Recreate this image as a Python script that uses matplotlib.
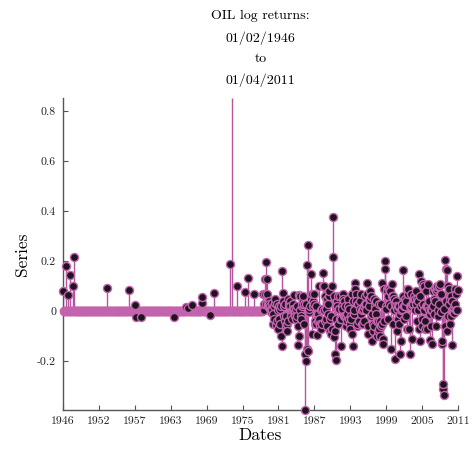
import numpy as np
import matplotlib
matplotlib.use("Agg")
import matplotlib.pyplot as plt
from matplotlib.patches import Rectangle

# ---------------- data ----------------
title_lines = ["OIL log returns:", "01/02/1946", "to", "01/04/2011"]
x_label = "Dates"
y_label = "Series"
x_tick_labels = ["1946", "1952", "1957", "1963", "1969", "1975",
                 "1981", "1987", "1993", "1999", "2005", "2011"]
y_tick_values = [-0.2, 0.0, 0.2, 0.4, 0.6, 0.8]
y_tick_labels = ["-0.2", "0", "0.2", "0.4", "0.6", "0.8"]

start_year, start_month = 1946, 2
end_year, end_month = 2011, 4

# regulated-price era: only the months with a price change (others are 0)
early_months = ["1946-02", "1946-07", "1946-11", "1947-03", "1947-10", "1947-12",
                "1953-06", "1957-01", "1957-12", "1958-02", "1959-01", "1964-06",
                "1966-05", "1966-09", "1967-06", "1969-01", "1969-02", "1970-06",
                "1971-01", "1973-08", "1974-01", "1974-10", "1976-02", "1976-08",
                "1977-08"]
early_returns = [0.081, 0.18, 0.064, 0.144, 0.10, 0.217,
                 0.093, 0.084, 0.024, -0.023, -0.023, -0.022,
                 0.016, 0.012, 0.024, 0.031, 0.057, -0.014,
                 0.073, 0.19, 0.853, 0.10, 0.075, 0.133,
                 0.068]

# monthly log returns, Jan 1979 .. Apr 2011 (one row per year)
late_start_year = 1979
late_returns = [
    0.004, 0.07, 0.006, 0.03, 0.13, 0.07, 0.197, 0.03, 0.07, 0.13, 0.02, 0.03,          # 1979
    0.04, 0.03, 0.01, 0.02, -0.005, 0.01, 0.031, 0.005, -0.01, -0.05, 0.02, -0.03,      # 1980
    0.031, 0.05, -0.05, -0.056, 0.03, -0.04, -0.07, 0.004, 0.02, -0.03, -0.05, 0.01,    # 1981
    0.02, -0.10, 0.16, -0.14, 0.072, 0.04, 0.02, -0.02, -0.04, 0.03, -0.06, -0.02,      # 1982
    -0.05, -0.08, -0.04, 0.05, 0.03, 0.02, 0.04, 0.02, -0.01, -0.02, -0.03, 0.005,      # 1983
    0.03, 0.01, 0.065, 0.01, -0.005, -0.02, -0.03, 0.01, 0.02, -0.02, -0.06, -0.136,   # 1984
    -0.10, 0.065, 0.06, 0.004, -0.02, -0.03, 0.02, 0.03, 0.04, 0.06, 0.03, -0.05,       # 1985
    -0.17, -0.396, -0.20, 0.03, 0.184, -0.15, -0.16, 0.264, -0.005, 0.01, 0.02, 0.05,  # 1986
    0.15, -0.09, 0.07, 0.02, 0.04, 0.03, 0.07, -0.05, -0.04, 0.02, -0.05, -0.096,      # 1987
    -0.01, -0.01, -0.04, 0.10, -0.03, -0.05, -0.06, 0.004, -0.07, -0.05, 0.01, 0.153,  # 1988
    0.10, 0.005, 0.10, 0.06, -0.04, 0.01, -0.03, -0.06, 0.05, 0.03, -0.01, 0.06,       # 1989
    0.08, -0.03, -0.08, -0.09, -0.02, -0.07, 0.10, 0.375, 0.216, 0.06, -0.105, -0.17,  # 1990
    -0.08, -0.196, -0.03, 0.04, 0.02, -0.05, 0.06, 0.01, 0.01, 0.06, -0.03, -0.14,     # 1991
    -0.03, 0.02, 0.01, 0.07, 0.05, 0.04, -0.02, -0.02, 0.02, -0.02, -0.06, -0.04,      # 1992
    -0.01, 0.05, 0.02, 0.01, -0.03, -0.05, -0.07, -0.02, -0.03, 0.07, -0.09, -0.14,    # 1993
    0.04, -0.01, 0.005, 0.113, 0.09, 0.07, 0.04, -0.06, -0.05, 0.03, 0.03, -0.04,      # 1994
    0.04, 0.01, -0.01, 0.07, 0.004, -0.05, -0.05, 0.01, 0.02, -0.04, 0.03, 0.06,       # 1995
    0.03, 0.005, 0.113, 0.07, -0.09, -0.06, 0.05, 0.02, 0.08, 0.05, -0.02, 0.06,       # 1996
    -0.01, -0.12, -0.08, -0.05, 0.05, -0.06, 0.02, 0.01, -0.01, 0.04, -0.04, -0.10,    # 1997
    -0.08, -0.04, -0.07, 0.03, -0.04, -0.10, 0.03, -0.06, 0.113, -0.05, -0.11, -0.13,  # 1998
    0.09, -0.04, 0.20, 0.167, 0.02, 0.01, 0.09, 0.08, 0.06, -0.03, 0.09, 0.03,         # 1999
    0.08, 0.08, 0.02, -0.15, 0.11, 0.06, -0.05, 0.06, 0.05, 0.004, 0.03, -0.19,        # 2000
    0.04, 0.02, -0.08, 0.01, 0.02, -0.03, -0.05, 0.02, -0.01, -0.17, -0.12, 0.005,     # 2001
    0.01, 0.03, 0.164, 0.06, 0.02, -0.03, 0.05, 0.02, 0.04, -0.02, -0.07, 0.09,        # 2002
    0.07, 0.09, -0.07, -0.17, 0.02, 0.07, 0.02, 0.03, -0.113, 0.04, 0.03, 0.05,        # 2003
    0.06, 0.005, 0.05, 0.03, 0.08, -0.04, 0.05, 0.04, 0.004, 0.148, -0.07, -0.12,      # 2004
    0.06, 0.02, 0.12, -0.03, -0.06, 0.11, 0.03, 0.10, 0.005, -0.04, -0.07, 0.02,       # 2005
    0.08, -0.07, 0.02, 0.11, 0.02, 0.004, 0.04, -0.01, -0.116, -0.06, 0.005, 0.006,    # 2006
    -0.13, 0.08, 0.02, 0.05, -0.01, 0.04, 0.09, -0.06, 0.08, 0.09, 0.10, -0.02,        # 2007
    0.005, 0.03, 0.10, 0.07, 0.11, 0.07, -0.005, -0.13, -0.12, -0.31, -0.29, -0.336,   # 2008
    0.01, -0.06, 0.204, 0.04, 0.17, 0.165, -0.08, 0.10, -0.02, 0.09, 0.03, -0.05,      # 2009
    0.05, -0.02, 0.06, 0.04, -0.136, -0.005, 0.01, 0.004, -0.006, 0.09, 0.03, 0.07,    # 2010
    0.005, 0.004, 0.14, 0.084,                                                          # 2011
]

# ---------------- build the monthly series ----------------
n_months = (end_year - start_year) * 12 + (end_month - start_month) + 1
values = np.zeros(n_months)
for ym, v in zip(early_months, early_returns):
    y, m = map(int, ym.split("-"))
    values[(y - start_year) * 12 + (m - start_month)] = v
late_offset = (late_start_year - start_year) * 12 + (1 - start_month)
values[late_offset:late_offset + len(late_returns)] = late_returns
dates = start_year + (start_month - 1) / 12.0 + np.arange(n_months) / 12.0

# ---------------- plot ----------------
plt.rcParams["font.family"] = ["cmr10", "DejaVu Serif"]
plt.rcParams["axes.unicode_minus"] = False

pink = "#B8549F"
edge_pink = "#C463AE"
dark = "#1E141F"

fig = plt.figure(figsize=(4.74, 4.50), dpi=100)
ax = fig.add_axes([63 / 474, 1 - 410 / 450, (458 - 63) / 474, (410 - 98) / 450])

# markers may spill below / sideways the frame but are cut near its top
clip_box = Rectangle((-0.05, -0.1), 1.1, 1.08, transform=ax.transAxes)

ax.vlines(dates, 0, values, color=pink, linewidth=1.0, zorder=2)
zero = values == 0
m1, = ax.plot(dates[zero], values[zero], linestyle="none", marker="o", markersize=5.8,
              markerfacecolor=pink, markeredgecolor=edge_pink, markeredgewidth=1.0, zorder=3)
m2, = ax.plot(dates[~zero], values[~zero], linestyle="none", marker="o", markersize=5.8,
              markerfacecolor=dark, markeredgecolor=edge_pink, markeredgewidth=1.0, zorder=4)
for m in (m1, m2):
    m.set_clip_path(clip_box)

ax.set_xlim(dates[0], dates[-1])
ax.set_ylim(values.min(), values.max())

ax.set_xticks(np.linspace(dates[0], dates[-1], len(x_tick_labels)))
ax.set_xticklabels(x_tick_labels)
ax.set_yticks(y_tick_values)
ax.set_yticklabels(y_tick_labels)

for s in ["top", "right"]:
    ax.spines[s].set_visible(False)
for s in ["left", "bottom"]:
    ax.spines[s].set_color("#555555")
    ax.spines[s].set_linewidth(1.0)
ax.tick_params(direction="in", length=3.5, width=0.8, color="#555555",
               labelsize=8.5, labelcolor="#222222", pad=5)

ax.set_xlabel(x_label, fontsize=12.5, labelpad=1)
ax.set_ylabel(y_label, fontsize=12.5, labelpad=5)
ax.set_title("\n".join(title_lines), fontsize=10, linespacing=1.85, pad=10)

fig.savefig("out.png", dpi=100)
